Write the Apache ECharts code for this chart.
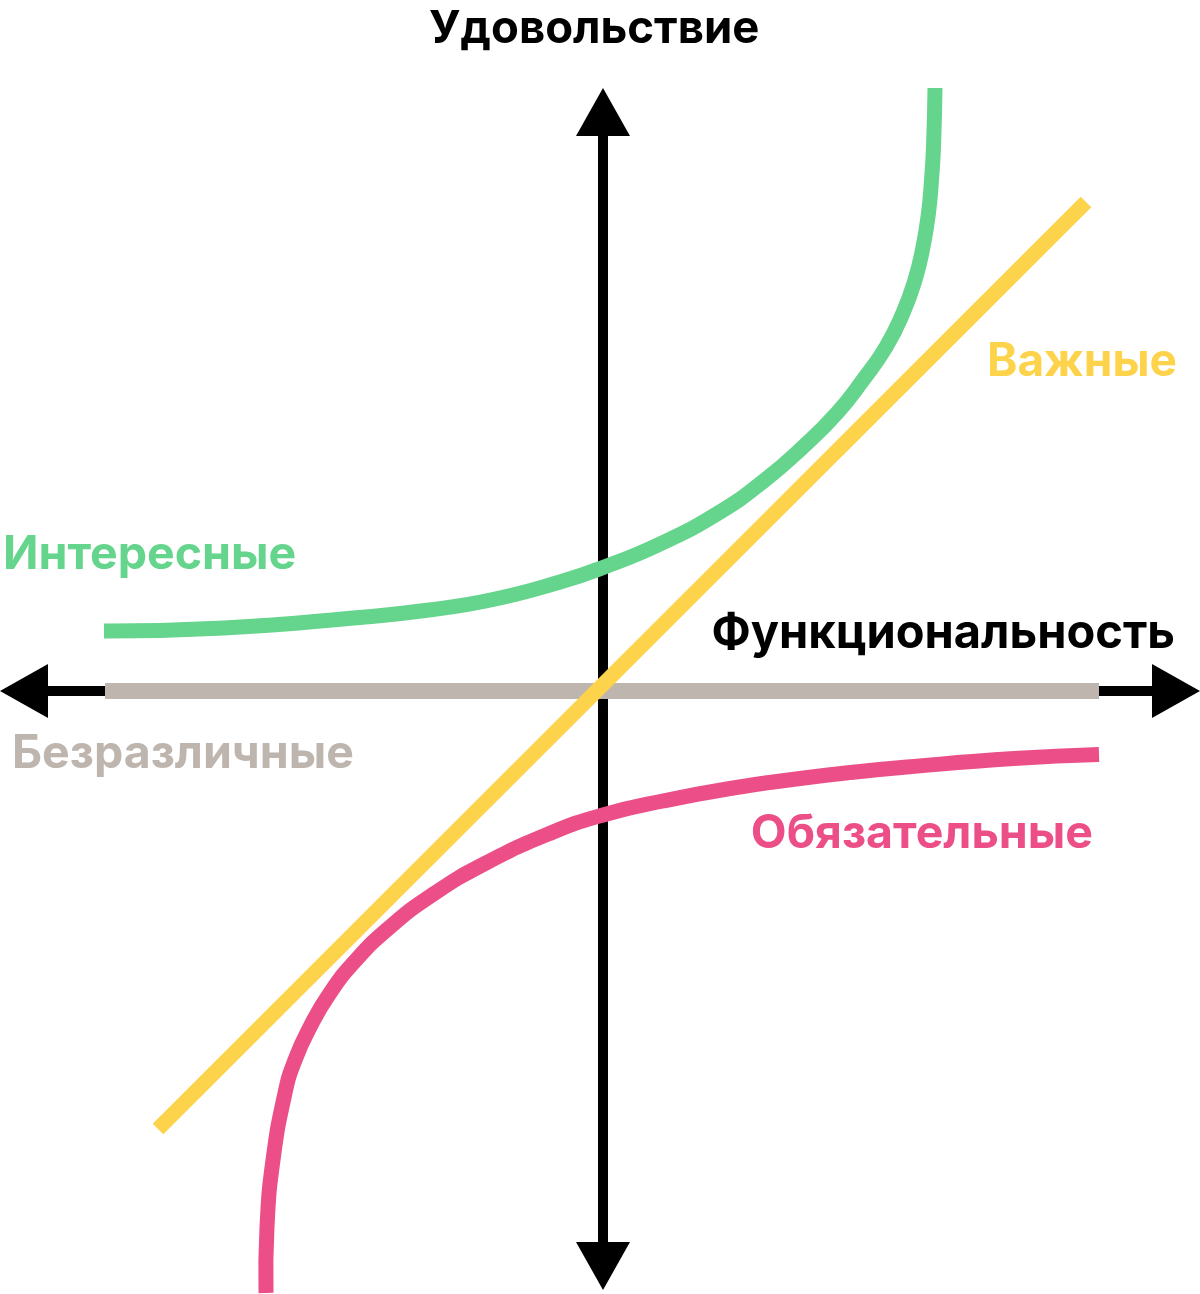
<!DOCTYPE html>
<html>
<head>
<meta charset="utf-8">
<script src="https://cdn.jsdelivr.net/npm/echarts@6/dist/echarts.min.js"></script>
<style>
html,body{margin:0;padding:0;background:#fff;}
#chart{width:1200px;height:1294px;}
</style>
</head>
<body>
<div id="chart"></div>
<script>
// Axis titles
const axisTitles = { x: 'Функциональность', y: 'Удовольствие' };
// Axis extents (units: 1 = 100 px of the drawing, origin at the axes crossing)
const xRange = [-5.55, 5.49];
const yRange = [-5.51, 5.55];

// Series names
const names = ['Безразличные', 'Обязательные', 'Интересные', 'Важные'];
const colors = ['#bdb5ae', '#ec4f87', '#65d48c', '#fcd34a'];

// Безразличные (indifferent) — flat line
const indifferent = [[-4.98, 0], [4.96, 0]];
// Важные (performance) — straight line
const performance = [[-4.45, -4.38], [4.83, 4.89]];
// Интересные (attractive)
const attractive = [
  [-4.99, 0.60], [-3.79, 0.63], [-2.43, 0.735], [-1.76, 0.807], [-1.10, 0.915],
  [-0.43, 1.09], [0, 1.235], [0.57, 1.47], [1.17, 1.79], [1.62, 2.11],
  [2.00, 2.44], [2.34, 2.78], [2.60, 3.11], [2.83, 3.44], [3.00, 3.78],
  [3.12, 4.11], [3.20, 4.44], [3.255, 4.78], [3.285, 5.11], [3.305, 5.44],
  [3.32, 6.03]
];
// Обязательные (must-be)
const mustBe = [
  [-3.37, -6.02], [-3.36, -5.36], [-3.30, -4.69], [-3.18, -4.02], [-3.08, -3.69],
  [-2.93, -3.36], [-2.73, -3.02], [-2.47, -2.69], [-2.13, -2.36], [-1.71, -2.04],
  [-1.18, -1.725], [-0.51, -1.415], [0, -1.24], [0.60, -1.10], [1.27, -0.975],
  [1.97, -0.875], [2.47, -0.815], [3.04, -0.76], [4.11, -0.675], [4.96, -0.635]
];

const FONT = 'Inter, "Noto Sans", sans-serif';

function lineSeries(name, data, color, width, z) {
  return {
    name: name, type: 'line', data: data,
    showSymbol: false, symbol: 'none', clip: false, z: z,
    lineStyle: { color: color, width: width, cap: 'butt' },
    silent: true, animation: false
  };
}

// Smooth curve through the data points, positioned with the cartesian scales
function curveSeries(name, data, color, width, z) {
  return {
    name: name, type: 'custom', coordinateSystem: 'cartesian2d',
    data: data, z: z, silent: true, clip: false, animation: false,
    renderItem: function (params, api) {
      if (params.dataIndex !== 0) return null;
      const pts = data.map(function (d) { return api.coord(d); });
      return {
        type: 'polyline',
        shape: { points: pts, smooth: 0.5 },
        style: { stroke: color, lineWidth: width, fill: null, lineCap: 'butt', lineJoin: 'round' }
      };
    }
  };
}

function label(text, x, y, align, color, size) {
  return {
    type: 'text', x: x, y: y, silent: true,
    style: {
      text: text, fill: color, font: '700 ' + size + 'px ' + FONT,
      textAlign: align, textVerticalAlign: 'middle'
    }
  };
}

const axisLineCfg = {
  onZero: true,
  lineStyle: { color: '#000', width: 10 },
  symbol: ['triangle', 'triangle'], symbolSize: [54, 48], symbolOffset: [-24, 24]
};

const chart = echarts.init(document.getElementById('chart'), null, { renderer: 'canvas' });
chart.setOption({
  animation: false,
  backgroundColor: '#ffffff',
  grid: { left: 48, right: 48, top: 136, bottom: 52 },
  xAxis: {
    type: 'value', min: xRange[0], max: xRange[1],
    splitLine: { show: false }, axisTick: { show: false }, axisLabel: { show: false },
    axisLine: axisLineCfg
  },
  yAxis: {
    type: 'value', min: yRange[0], max: yRange[1],
    splitLine: { show: false }, axisTick: { show: false }, axisLabel: { show: false },
    axisLine: axisLineCfg
  },
  series: [
    lineSeries(names[0], indifferent, colors[0], 16, 2),
    curveSeries(names[1], mustBe, colors[1], 15, 3),
    curveSeries(names[2], attractive, colors[2], 15, 4),
    lineSeries(names[3], performance, colors[3], 15, 5)
  ],
  graphic: [
    label(axisTitles.y, 429, 29, 'left', '#000000', 45.5),
    label(axisTitles.x, 1175, 634, 'right', '#000000', 47),
    label(names[0], 12, 754, 'left', colors[0], 46.5),
    label(names[1], 1093, 834, 'right', colors[1], 46.5),
    label(names[2], 3, 555, 'left', colors[2], 46.5),
    label(names[3], 1177, 362, 'right', colors[3], 46)
  ]
});
</script>
</body>
</html>
